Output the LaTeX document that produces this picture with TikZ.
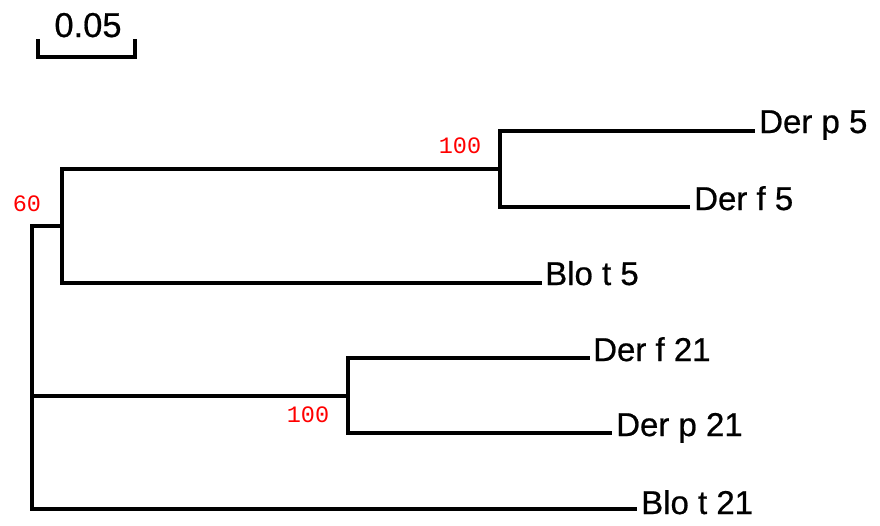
\documentclass[tikz,border=0pt]{standalone}
\usepackage{fontspec}
\setmainfont{Liberation Sans}[FakeBold=0.6]
\newfontfamily\bootfont{Liberation Mono}
\begin{document}
\begin{tikzpicture}[x=1pt,y=-1pt,
  branch/.style={line width=4.2pt,line join=miter,line cap=butt},
  tiplabel/.style={anchor=base west,inner sep=0pt,font=\fontsize{33}{36}\selectfont},
  boot/.style={text=red,inner sep=0pt,font=\bootfont\fontsize{23.5}{26}\selectfont}]
\useasboundingbox (0,0) rectangle (880,525);
% scale bar
\coordinate (sbL) at (38,39);
\coordinate (sbR) at (135,39);
\draw[line width=3.2pt,line join=miter] (sbL) -- ++(0,18) -| (sbR);
\node[anchor=base,inner sep=0pt,font=\fontsize{34.5}{38}\selectfont] (sbT) at (88,37) {0.05};
% internal nodes
\coordinate (root) at (32,396);
\coordinate (n60) at (62,226);
\coordinate (n5) at (500,169);
\coordinate (n21) at (348,396);
% tips
\coordinate (tDp5) at (755,131);
\coordinate (tDf5) at (690,207);
\coordinate (tBt5) at (542,283);
\coordinate (tDf21) at (590,358);
\coordinate (tDp21) at (612,433);
\coordinate (tBt21) at (637,509);
% branches
\draw[branch] (root) |- (n60);
\draw[branch] (root) |- (n21);
\draw[branch] (root) |- (tBt21);
\draw[branch] (n60) |- (n5);
\draw[branch] (n60) |- (tBt5);
\draw[branch] (n5) |- (tDp5);
\draw[branch] (n5) |- (tDf5);
\draw[branch] (n21) |- (tDf21);
\draw[branch] (n21) |- (tDp21);
% tip labels
\node[tiplabel] (lDp5) at ([shift={(4,2)}]tDp5) {Der p 5};
\node[tiplabel] (lDf5) at ([shift={(4,3)}]tDf5) {Der f 5};
\node[tiplabel] (lBt5) at ([shift={(3,2)}]tBt5) {Blo t 5};
\node[tiplabel] (lDf21) at ([shift={(3,3)}]tDf21) {Der f 21};
\node[tiplabel] (lDp21) at ([shift={(4,3)}]tDp21) {Der p 21};
\node[tiplabel] (lBt21) at ([shift={(4,5)}]tBt21) {Blo t 21};
% bootstrap values
\node[boot] (b5) at (460,146) {100};
\node[boot] (b21) at (308,415) {100};
\node[boot] (b60) at (27,204) {60};
\end{tikzpicture}
\end{document}
